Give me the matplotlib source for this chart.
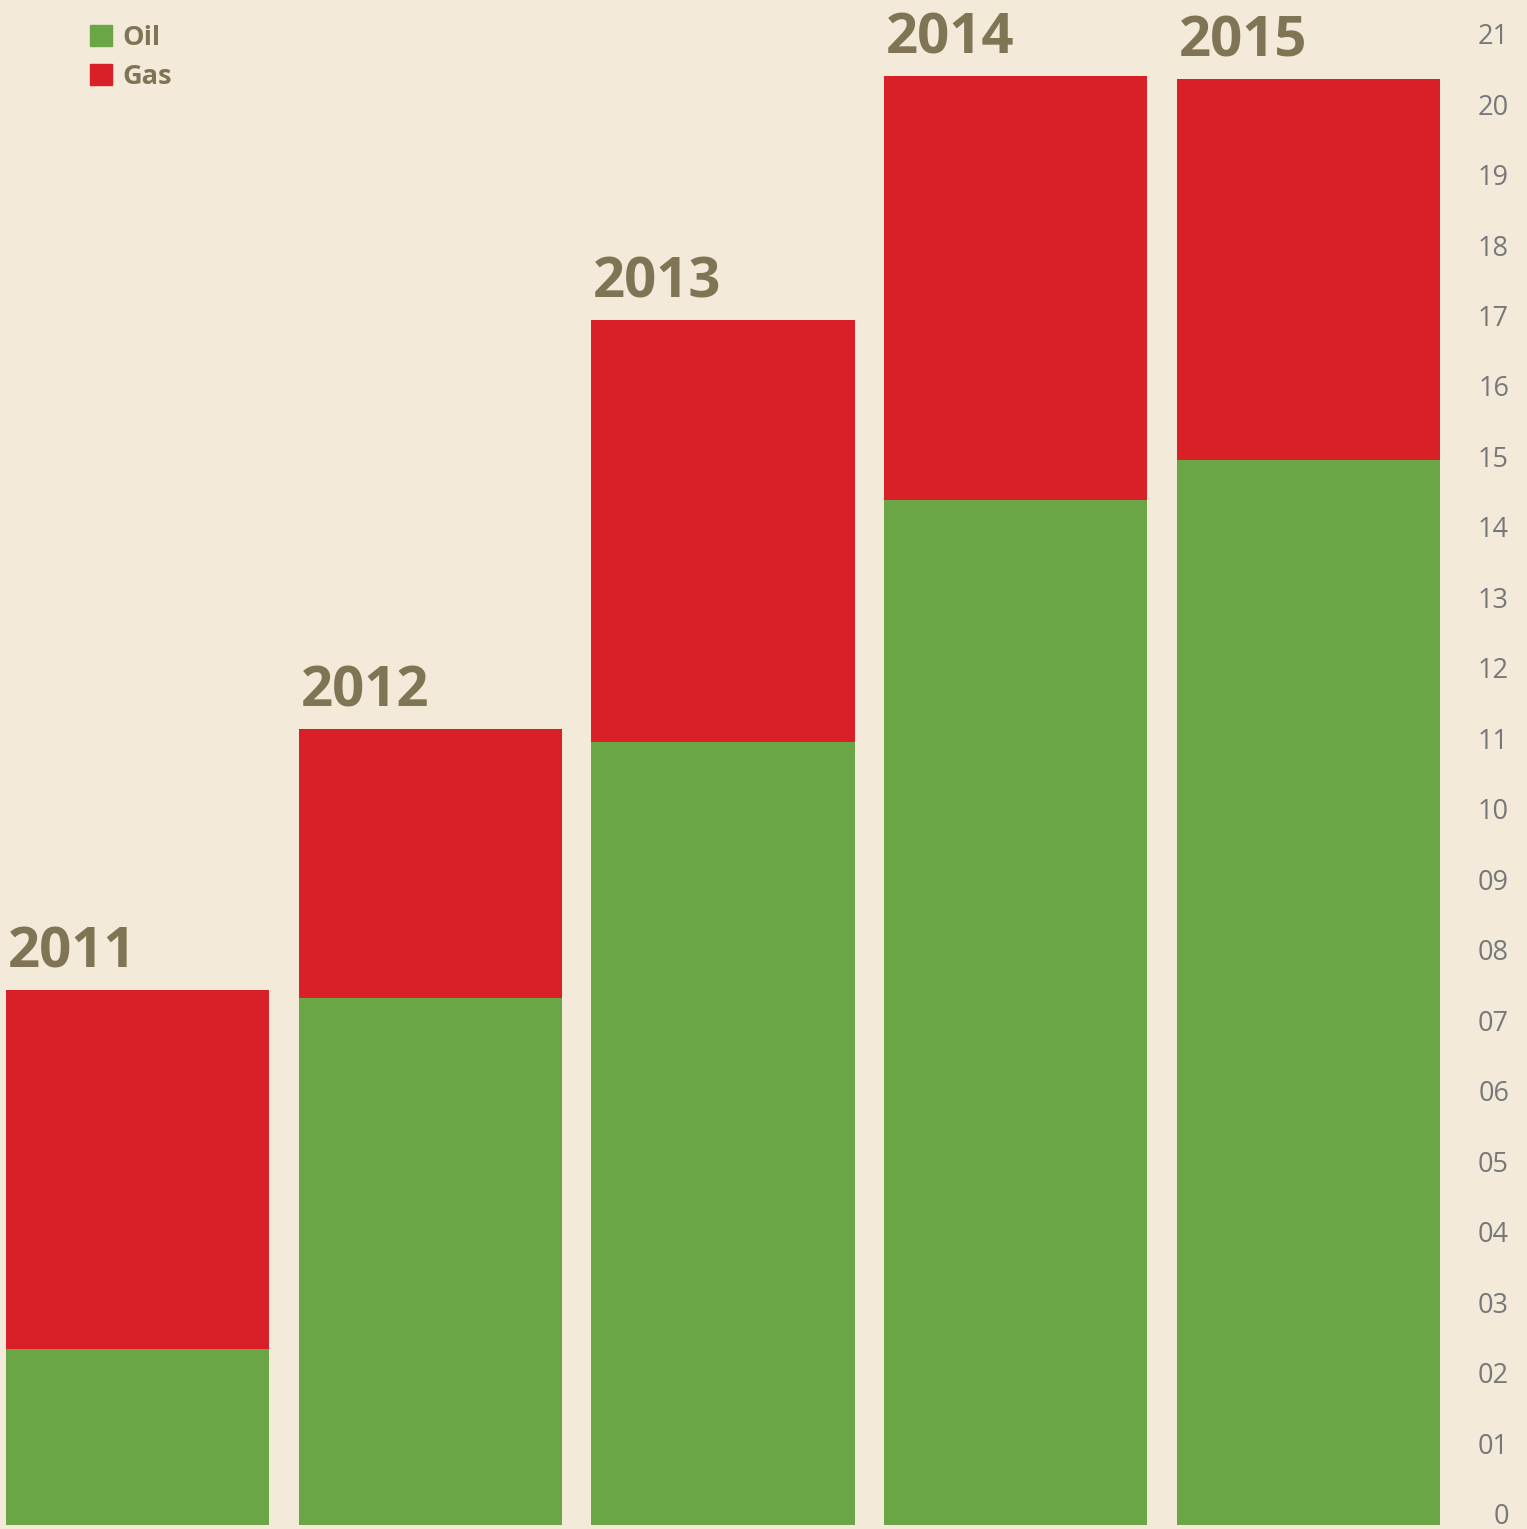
import matplotlib.pyplot as plt
from matplotlib.patches import Patch
from matplotlib.transforms import ScaledTranslation, blended_transform_factory

years = ['2011', '2012', '2013', '2014', '2015']
oil = [2.50, 7.48, 11.11, 14.54, 15.11]
gas = [5.09, 3.81, 5.99, 6.02, 5.41]
tick_vals = list(range(22))
tick_labels = ['0'] + ['%02d' % v for v in tick_vals[1:]]

bg = '#f3ead9'
green = '#6aa645'
red = '#d92028'
text_col = '#7f7555'
tick_col = '#77787a'

plt.rcParams['font.family'] = ['Open Sans', 'DejaVu Sans']

fig = plt.figure(figsize=(15.27, 15.29), dpi=100, facecolor=bg)
ax = fig.add_axes([0, 0, 1, 1])
ax.set_facecolor(bg)

x = range(len(years))
ax.bar(x, oil, width=0.9, color=green, label='Oil')
ax.bar(x, gas, width=0.9, bottom=oil, color=red, label='Gas')

# year labels above each stack, left-aligned with the bar
for i, yr in enumerate(years):
    total = oil[i] + gas[i]
    ax.annotate(yr, xy=(i - 0.45, total), xytext=(1.5, 16.5),
                textcoords='offset points', ha='left', va='baseline',
                fontsize=40.5, fontweight='bold', color=text_col)

ax.set_xlim(-0.47, 4.747)
ax.set_ylim(-0.057, 21.64)
ax.axis('off')

# value scale on the right side, nudged up a little like the original
trans = blended_transform_factory(fig.transFigure, ax.transData) + \
    ScaledTranslation(0, 8 / 100, fig.dpi_scale_trans)
for v, lab in zip(tick_vals, tick_labels):
    ax.text(1509 / 1527, v, lab, transform=trans, ha='right', va='center',
            fontsize=19.5, color=tick_col)

handles = [Patch(color=green, label='Oil'), Patch(color=red, label='Gas')]
leg = fig.legend(handles=handles, loc='upper left', bbox_to_anchor=(0.052, 0.991),
                 frameon=False, fontsize=19.5, handlelength=0.82, handleheight=0.82,
                 handletextpad=0.35, labelspacing=0.5, borderaxespad=0)
for t in leg.get_texts():
    t.set_color(text_col)
    t.set_fontweight('bold')

fig.savefig('out.png', dpi=100, facecolor=bg)
